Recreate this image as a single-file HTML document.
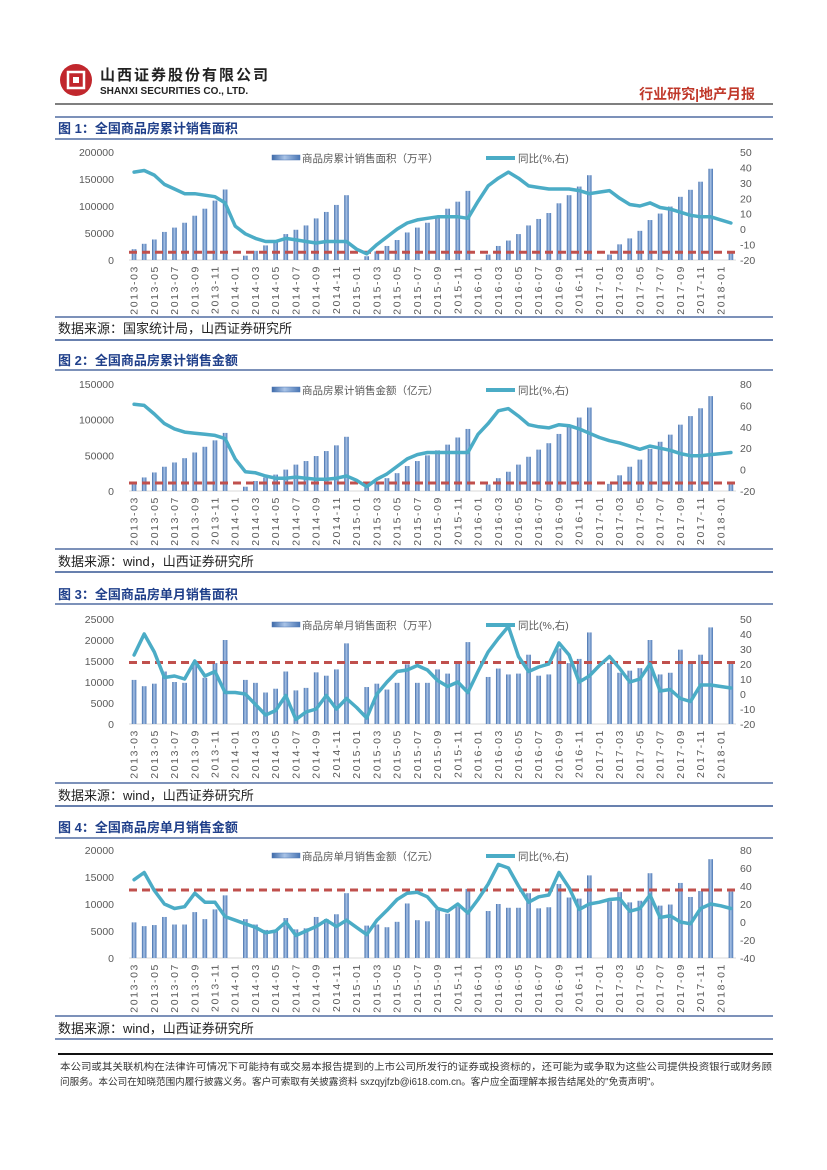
<!DOCTYPE html>
<html><head><meta charset="utf-8"><style>
html,body{margin:0;padding:0;background:#fff;}
svg{display:block;font-family:"Liberation Sans","Noto Sans CJK SC",sans-serif;}
</style></head><body>
<svg id="page" width="827" height="1170" viewBox="0 0 827 1170" xmlns="http://www.w3.org/2000/svg">
<defs>
<linearGradient id="barg" x1="0" x2="1" y1="0" y2="0"><stop offset="0" stop-color="#3e6aa8"/><stop offset="0.45" stop-color="#a9c3e6"/><stop offset="1" stop-color="#4a76b4"/></linearGradient>
</defs>
<g>
<circle cx="76" cy="80" r="16" fill="#c1272d"/>
<rect x="68" y="72" width="16" height="16" fill="none" stroke="#fff" stroke-width="2.5"/>
<rect x="73" y="77" width="6" height="6" fill="#fff"/>
<text x="100" y="80" font-size="15" font-weight="bold" letter-spacing="2" fill="#222">山西证券股份有限公司</text>
<text x="100" y="94" font-size="10" font-weight="bold" fill="#222">SHANXI SECURITIES CO., LTD.</text>
<text x="755" y="99" text-anchor="end" font-size="14" font-weight="bold" fill="#c0392b">行业研究|地产月报</text>
<line x1="55" y1="104" x2="773" y2="104" stroke="#555" stroke-width="1.5"/>
</g>
<g id="charts"></g>
<g>
<line x1="58" y1="1054" x2="773" y2="1054" stroke="#111" stroke-width="2"/>
<text x="60" y="1070" font-size="9.8" textLength="712" lengthAdjust="spacingAndGlyphs" fill="#333">本公司或其关联机构在法律许可情况下可能持有或交易本报告提到的上市公司所发行的证券或投资标的，还可能为或争取为这些公司提供投资银行或财务顾</text>
<text x="60" y="1085" font-size="9.8" textLength="600" lengthAdjust="spacingAndGlyphs" fill="#333">问服务。本公司在知晓范围内履行披露义务。客户可索取有关披露资料 sxzqyjfzb@i618.com.cn。客户应全面理解本报告结尾处的"免责声明"。</text>
</g>
</svg>
<script>
// ---------- data ----------
const months = [];
for (let y = 2013; y <= 2018; y++) for (let m = 1; m <= 12; m++) {
  if ((y === 2013 && m < 3) || (y === 2018 && m > 2)) continue;
  months.push(y + '-' + (m < 10 ? '0' + m : m));
}
const areaCum = [20000,30000,38000,52000,60000,69000,82000,95000,110000,130551,
 null,8000,17000,27000,36000,48000,56000,64000,77000,89000,102000,120000,
 null,7000,16000,26000,37000,51000,60000,69000,82000,95000,108000,128000,
 null,10000,26000,36000,48000,64000,76000,87000,105000,120000,136000,157000,
 null,10000,29000,40000,54000,74000,86000,99000,117000,130000,145000,169000,
 null,15000];
const areaCumYoy = [37,38,35,29,26,23,23,22,21,17,
 2,-3,-6,-8,-8,-6,-7,-8,-9,-8,-8,-8,
 -13,-16,-10,-5,0,4,6,7,8,8,8,7,
 18,28,33,37,33,28,27,26,26,26,25,23,
 24,25,20,16,15,17,14,13,11,9,8,8,
 6,4];
const amtCum = [13000,19000,26000,34000,40000,46000,54000,62000,71000,81428,
 null,6000,14000,19000,23000,30000,37000,42000,49000,56000,64000,76000,
 null,5000,12000,18000,25000,35000,42000,50000,57000,65000,75000,87000,
 null,9000,18000,27000,37000,48000,58000,67000,80000,91000,103000,117000,
 null,10000,22000,34000,44000,59000,69000,79000,93000,105000,116000,133000,
 null,12000];
const amtCumYoy = [61,60,52,43,38,35,34,33,32,29,
 10,-2,-3,-6,-8,-8,-7,-8,-9,-9,-8,-6,
 -10,-16,-9,-4,3,10,14,16,16,16,16,16,
 33,43,55,57,50,42,40,39,42,41,38,34,
 30,27,25,22,19,22,20,18,15,13,13,14,
 15,16];
const areaMon = [10500,9000,9600,12500,10000,9800,14200,11000,14500,20000,
 null,10500,9800,7500,8400,12500,8000,8600,12300,11500,13000,19200,
 null,8800,9600,8200,9800,14200,9800,9800,13000,12000,14500,19500,
 null,11200,13200,11800,12000,16500,11500,11800,18000,14500,15500,21800,
 null,14500,12200,12700,13300,20000,11800,12200,17700,14500,16500,23000,
 null,14500];
const areaMonYoy = [26,40,28,11,12,10,22,12,15,1,
 1,0,-7,-14,-11,-1,-17,-12,-10,-1,-10,-3,
 -9,-16,0,8,15,16,19,16,9,5,8,1,
 15,28,37,45,25,15,18,20,34,26,8,12,
 19,25,17,8,10,20,2,3,-3,-5,6,6,
 5,4];
const amtMon = [6600,5900,6100,7600,6200,6200,8500,7200,9000,11600,
 null,7200,6200,5200,5100,7400,5300,5500,7600,7200,8100,12000,
 null,6000,6200,5700,6700,10100,7000,6800,9000,8200,9500,12800,
 null,8700,10000,9300,9300,12000,9200,9400,13700,11200,11000,15300,
 null,10500,12200,10300,10600,15700,9700,9900,13900,11300,12400,18300,
 null,12300];
const amtMonYoy = [47,55,35,20,15,17,32,22,22,6,
 2,-2,-6,-12,-10,0,-15,-10,-5,2,-5,2,
 -6,-14,2,13,25,32,33,28,15,12,20,10,
 25,42,64,60,40,22,28,30,55,38,14,20,
 22,25,26,12,15,30,5,7,0,-2,15,20,
 18,15];
const refLines = [-15, -12.5, 21, 35.5];
const leftTicks1 = [0,50000,100000,150000,200000];
const rightTicks1 = [-20,-10,0,10,20,30,40,50];
const leftTicks2 = [0,50000,100000,150000];
const rightTicks2 = [-20,0,20,40,60,80];
const leftTicks3 = [0,5000,10000,15000,20000,25000];
const rightTicks3 = [-20,-10,0,10,20,30,40,50];
const leftTicks4 = [0,5000,10000,15000,20000];
const rightTicks4 = [-40,-20,0,20,40,60,80];
const titles = ['图 1：全国商品房累计销售面积','图 2：全国商品房累计销售金额','图 3：全国商品房单月销售面积','图 4：全国商品房单月销售金额'];
const legendBars = ['商品房累计销售面积（万平）','商品房累计销售金额（亿元）','商品房单月销售面积（万平）','商品房单月销售金额（亿元）'];
const sources = ['数据来源：国家统计局，山西证券研究所','数据来源：wind，山西证券研究所','数据来源：wind，山西证券研究所','数据来源：wind，山西证券研究所'];

// ---------- layout ----------
const NS = 'http://www.w3.org/2000/svg';
const root = document.getElementById('charts');
function mk(tag, attrs, parent, txt) {
  const e = document.createElementNS(NS, tag);
  for (const k in attrs) e.setAttribute(k, attrs[k]);
  if (txt !== undefined) e.textContent = txt;
  (parent || root).appendChild(e);
  return e;
}
const charts = [
  {bars: areaCum, yoy: areaCumYoy, lt: leftTicks1, rt: rightTicks1, y0: 260, y1: 152, titleY: 128, topLine: 117, botLine: 139, srcTop: 317, srcY: 329, srcBot: 340},
  {bars: amtCum, yoy: amtCumYoy, lt: leftTicks2, rt: rightTicks2, y0: 491, y1: 384, titleY: 360, topLine: 340, botLine: 370, srcTop: 549, srcY: 562, srcBot: 572},
  {bars: areaMon, yoy: areaMonYoy, lt: leftTicks3, rt: rightTicks3, y0: 724, y1: 619, titleY: 594, topLine: 572, botLine: 604, srcTop: 783, srcY: 796, srcBot: 806},
  {bars: amtMon, yoy: amtMonYoy, lt: leftTicks4, rt: rightTicks4, y0: 958, y1: 850, titleY: 827, topLine: 806, botLine: 838, srcTop: 1016, srcY: 1029, srcBot: 1039}
];
const xL = 129, xR = 736;
const step = (xR - xL) / months.length;
function xPos(i) { return xL + step * (i + 0.5); }

charts.forEach((c, ci) => {
  const g = mk('g', {});
  
  
  const lmin = c.lt[0], lmax = c.lt[c.lt.length - 1];
  const rmin = c.rt[0], rmax = c.rt[c.rt.length - 1];
  const yL = v => c.y0 - (v - lmin) / (lmax - lmin) * (c.y0 - c.y1);
  const yR = v => c.y0 - (v - rmin) / (rmax - rmin) * (c.y0 - c.y1);
  mk('line', {x1: 55, x2: 773, y1: c.topLine, y2: c.topLine, stroke: '#2f4f8f', 'stroke-width': 1.2}, g);
  mk('line', {x1: 55, x2: 773, y1: c.botLine, y2: c.botLine, stroke: '#2f4f8f', 'stroke-width': 1.2}, g);
  const t = mk('text', {x: 58, y: c.titleY + 5, 'font-size': 13, 'font-weight': 'bold', fill: '#1f3f8a'}, g, titles[ci]);
  
  
  mk('line', {x1: 55, x2: 773, y1: c.srcTop, y2: c.srcTop, stroke: '#2f4f8f', 'stroke-width': 1.2}, g);
  const s = mk('text', {x: 58, y: c.srcY + 4, 'font-size': 13, fill: '#222'}, g, sources[ci]);
  
  
  mk('line', {x1: 55, x2: 773, y1: c.srcBot, y2: c.srcBot, stroke: '#2f4f8f', 'stroke-width': 1.2}, g);
  c.lt.forEach(v => {
    const e = mk('text', {x: 114, y: yL(v) + 4, 'text-anchor': 'end', 'font-size': 10.5, fill: '#595959'}, g, String(v));
    
    
  });
  c.rt.forEach(v => {
    const e = mk('text', {x: 740, y: yR(v) + 4, 'font-size': 10.5, fill: '#595959'}, g, String(v));
    
    
  });
  mk('line', {x1: xL, x2: xR, y1: c.y0, y2: c.y0, stroke: '#d9d9d9', 'stroke-width': 1}, g);
  months.forEach((m, i) => {
    if (i % 2) return;
    const x = xPos(i) + 3.5, y = c.y0 + 5;
    const e = mk('text', {x: x, y: y, 'text-anchor': 'end', 'font-size': 10.5, 'letter-spacing': 1.6, fill: '#595959', transform: 'rotate(-90 ' + x + ' ' + y + ')'}, g, m);
    
    
  });
  c.bars.forEach((v, i) => {
    if (v === null) return;
    const b = mk('rect', {x: xPos(i) - 2.3, y: yL(v), width: 4.6, height: c.y0 - yL(v), fill: 'url(#barg)'}, g);
    
    
  });
  const rl = mk('line', {x1: xL, x2: xR, y1: yR(refLines[ci]), y2: yR(refLines[ci]), stroke: '#c0504d', 'stroke-width': 3, 'stroke-dasharray': '8 5'}, g);
  
  
  const pts = c.yoy.map((v, i) => xPos(i).toFixed(1) + ',' + yR(v).toFixed(1)).join(' ');
  const pl = mk('polyline', {points: pts, fill: 'none', stroke: '#4bacc6', 'stroke-width': 3.5, 'stroke-linejoin': 'round', 'stroke-linecap': 'round'}, g);
  
  
  const ly = c.y1 + 6;
  const lg = mk('g', {}, g);
  
  
  mk('rect', {x: 272, y: ly - 3, width: 28, height: 5, fill: 'url(#barg)', stroke: '#4a76b4', 'stroke-width': 0.5}, lg);
  mk('text', {x: 302, y: ly + 4, 'font-size': 10.5, fill: '#595959'}, lg, legendBars[ci]);
  mk('line', {x1: 486, x2: 515, y1: ly, y2: ly, stroke: '#4bacc6', 'stroke-width': 4}, lg);
  mk('text', {x: 518, y: ly + 4, 'font-size': 10.5, fill: '#595959'}, lg, '同比(%,右)');
});
</script>
</body></html>
